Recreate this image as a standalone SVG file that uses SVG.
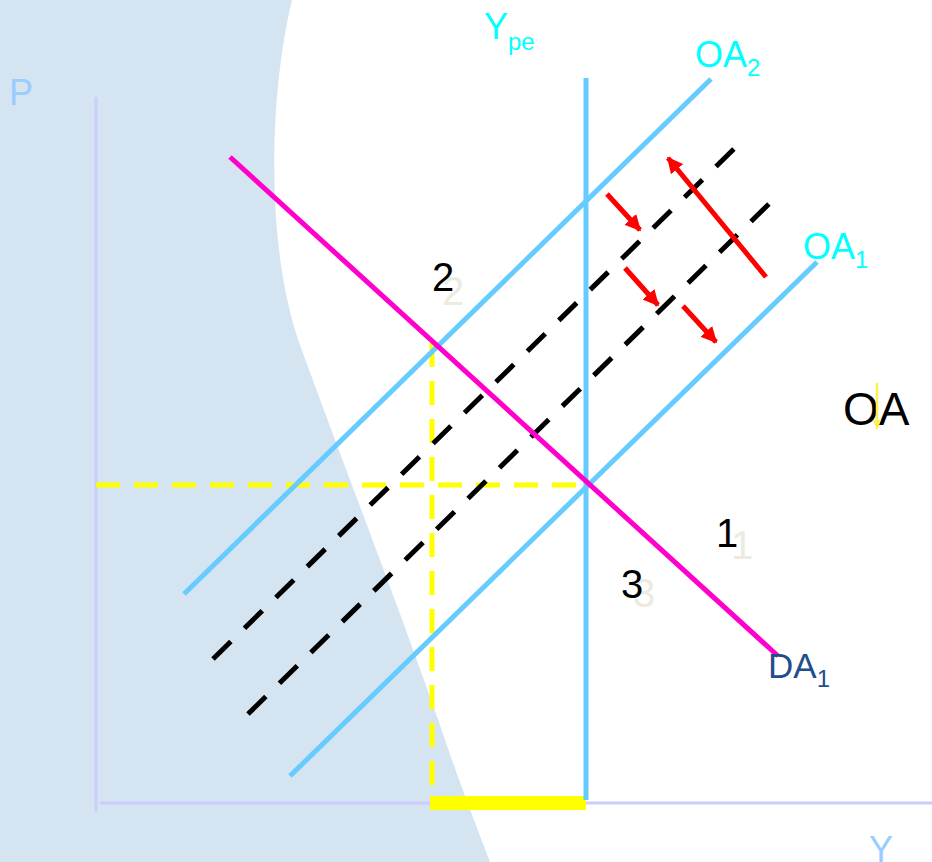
<svg xmlns="http://www.w3.org/2000/svg" width="932" height="862" viewBox="0 0 932 862">
<style>
text{font-family:"Liberation Sans",Arial,sans-serif}
.curve{fill:none;stroke:#66CCFF;stroke-width:5}
.dash{fill:none;stroke:#000;stroke-width:5;stroke-dasharray:25 19}
.ydash{fill:none;stroke:#FFFF00;stroke-width:5;stroke-dasharray:24 14}
.red{fill:none;stroke:#FF0000;stroke-width:5}
.cyan{fill:#00FFFF;font-size:36px}
.num{fill:#000;font-size:40px}
.ghost{fill:#ECEBE0;font-size:40px}
</style>
<defs>
<marker id="ah" viewBox="0 0 10 10" refX="9" refY="5" markerWidth="3.2" markerHeight="3.2" orient="auto" markerUnits="strokeWidth">
<path d="M0,0 L10,5 L0,10 Z" fill="#FF0000"/>
</marker>
<marker id="ya" viewBox="0 0 10 10" refX="9" refY="5" markerWidth="4" markerHeight="4" orient="auto" markerUnits="strokeWidth">
<path d="M0,1 L10,5 L0,9 Z" fill="#FFF04A"/>
</marker>
</defs>
<rect width="932" height="862" fill="#FFFFFF"/>
<path d="M0 0 L292 0 C268 100 266 250 300 345 C340 455 400 610 440 725 C460 785 478 830 490 862 L0 862 Z" fill="#D5E4F1"/>
<g id="axes">
<line x1="96" y1="97" x2="96" y2="812" stroke="#CCCCFF" stroke-width="3"/>
<line x1="100" y1="803" x2="932" y2="803" stroke="#CCCCFF" stroke-width="3"/>
<text x="9" y="105" fill="#99CCFF" font-size="36px">P</text>
<text x="869" y="862" fill="#99CCFF" font-size="36px">Y</text>
</g>
<g id="guides">
<line class="ydash" x1="96" y1="485" x2="586" y2="485"/>
<line class="ydash" x1="432" y1="343" x2="432" y2="796"/>
<rect x="430" y="796" width="156" height="14" fill="#FFFF00"/>
</g>
<g id="Ype">
<line x1="586" y1="78" x2="586" y2="800" stroke="#66CCFF" stroke-width="5"/>
<text class="cyan" x="484" y="39">Y<tspan font-size="24px" dy="11">pe</tspan></text>
</g>
<g id="OA2">
<line class="curve" x1="184" y1="594" x2="711" y2="79"/>
<text class="cyan" x="695" y="67">OA<tspan font-size="24px" dy="9">2</tspan></text>
</g>
<g id="OA1">
<line class="curve" x1="290" y1="776" x2="817" y2="262"/>
<text class="cyan" x="803" y="259">OA<tspan font-size="24px" dy="9">1</tspan></text>
</g>
<g id="OA-shift">
<line class="dash" x1="213" y1="659" x2="741" y2="142"/>
<line class="dash" x1="248" y1="714" x2="777" y2="196"/>
</g>
<g id="DA1">
<line x1="230" y1="157" x2="778" y2="656" stroke="#FF00CC" stroke-width="5"/>
<text x="768" y="678" fill="#1F4E8C" font-size="35px">DA<tspan font-size="24px" dy="9">1</tspan></text>
</g>
<g id="connectors">
<line class="red" x1="766" y1="277" x2="668" y2="158" marker-end="url(#ah)"/>
<line class="red" x1="607" y1="194" x2="640" y2="230" marker-end="url(#ah)"/>
<line class="red" x1="625" y1="268" x2="658" y2="305" marker-end="url(#ah)"/>
<line class="red" x1="683" y1="306" x2="716" y2="342" marker-end="url(#ah)"/>
</g>
<g id="label-2">
<text class="ghost" x="442" y="305">2</text>
<text class="num" x="432" y="291">2</text>
</g>
<g id="label-1">
<text class="ghost" x="731" y="559">1</text>
<text class="num" x="716" y="547">1</text>
</g>
<g id="label-3">
<text class="ghost" x="633" y="607">3</text>
<text class="num" x="621" y="598">3</text>
</g>
<g id="label-OA">
<text x="843" y="425" fill="#000" font-size="46px">OA</text>
<line x1="877" y1="383" x2="877" y2="429" stroke="#FFF04A" stroke-width="2.5" marker-end="url(#ya)"/>
</g>
</svg>
